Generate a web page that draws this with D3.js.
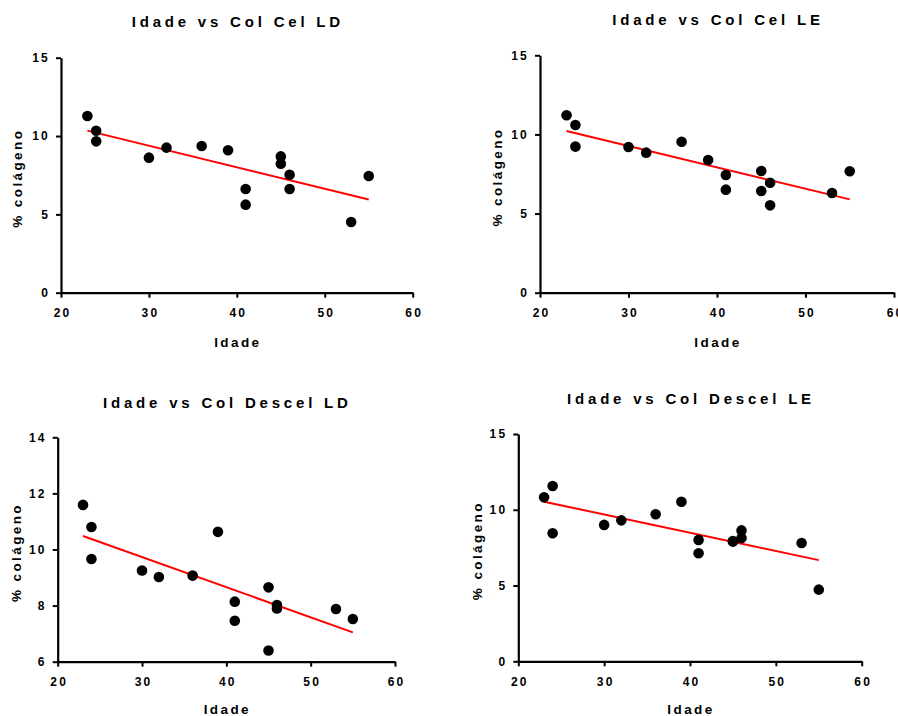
<!DOCTYPE html>
<meta charset="utf-8">
<script src="https://d3js.org/d3.v7.min.js"></script>
<style>
  body { margin: 0; background: #fff; }
  text { font-family: "Liberation Sans", Arial, sans-serif; font-weight: bold; fill: #000; }
</style>
<div id="chart"></div>
<script>
// ages (x) shared by all four panels
var idade = [23, 24, 24, 30, 32, 36, 39, 41, 41, 45, 45, 46, 46, 53, 55];

// % colageno per panel
var colCelLD    = [11.28, 10.34, 9.66, 8.62, 9.26, 9.36, 9.09, 6.62, 5.62, 8.70, 8.23, 7.53, 6.62, 4.51, 7.45];
var colCelLE    = [11.21, 10.60, 9.23, 9.21, 8.85, 9.54, 8.38, 7.44, 6.51, 7.69, 6.43, 6.95, 5.52, 6.30, 7.67];
var colDescelLD = [11.59, 10.80, 9.66, 9.25, 9.02, 9.07, 10.63, 8.14, 7.46, 8.65, 6.40, 8.02, 7.90, 7.88, 7.52];
var colDescelLE = [10.82, 11.57, 8.45, 9.00, 9.30, 9.70, 10.53, 8.01, 7.13, 7.94, 7.90, 8.64, 8.14, 7.81, 4.73];

var titles = ["Idade vs Col Cel LD", "Idade vs Col Cel LE", "Idade vs Col Descel LD", "Idade vs Col Descel LE"];
var xTicks = [20, 30, 40, 50, 60];
var yTicksA = [0, 5, 10, 15];
var yTicksB = [6, 8, 10, 12, 14];

var svg = d3.select("#chart").append("svg")
  .attr("width", 898)
  .attr("height", 716);

// panel boxes: left, right, top, bottom of the axes, plus label positions
var panels = [
  {ys: colCelLD,    title: titles[0], yTicks: yTicksA, l: 61,  r: 412.7, t: 57.7,  b: 292.7, ty: 27,  yl: 17,  xl: 347},
  {ys: colCelLE,    title: titles[1], yTicks: yTicksA, l: 540, r: 894,   t: 55.3,  b: 292.7, ty: 25,  yl: 497, xl: 347},
  {ys: colDescelLD, title: titles[2], yTicks: yTicksB, l: 57.7, r: 395,  t: 437.3, b: 661.7, ty: 408, yl: 16,  xl: 714},
  {ys: colDescelLE, title: titles[3], yTicks: yTicksA, l: 518.3, r: 861.7, t: 434, b: 661.3, ty: 404, yl: 477, xl: 714}
];

function fit(xs, ys) {
  var mx = d3.mean(xs), my = d3.mean(ys);
  var sxy = d3.sum(xs, function(d, i) { return (d - mx) * (ys[i] - my); });
  var sxx = d3.sum(xs, function(d) { return (d - mx) * (d - mx); });
  var m = sxy / sxx;
  return function(x) { return my + m * (x - mx); };
}

panels.forEach(function(p) {
  var g = svg.append("g");
  var x = d3.scaleLinear().domain([20, 60]).range([p.l, p.r]);
  var y = d3.scaleLinear().domain(d3.extent(p.yTicks)).range([p.b, p.t]);

  var xAxis = g.append("g")
    .attr("transform", "translate(0," + p.b + ")")
    .call(d3.axisBottom(x).tickValues(xTicks).tickSize(5).tickPadding(11).tickSizeOuter(0));
  var yAxis = g.append("g")
    .attr("transform", "translate(" + p.l + ",0)")
    .call(d3.axisLeft(y).tickValues(p.yTicks).tickSize(5).tickPadding(6).tickSizeOuter(0));

  [xAxis, yAxis].forEach(function(a) {
    a.select(".domain").attr("stroke", "#000").attr("stroke-width", 2.2);
    a.selectAll(".tick line").attr("stroke", "#000").attr("stroke-width", 2);
    a.selectAll(".tick text")
      .style("font-size", "12px")
      .style("letter-spacing", "2.2px")
      .style("font-family", "'Liberation Sans', Arial, sans-serif")
      .style("font-weight", "bold");
  });
  xAxis.selectAll(".tick text").attr("dx", "1px");

  // regression line
  var f = fit(idade, p.ys);
  var xr = d3.extent(idade);
  g.append("line")
    .attr("x1", x(xr[0])).attr("y1", y(f(xr[0])))
    .attr("x2", x(xr[1])).attr("y2", y(f(xr[1])))
    .attr("stroke", "#ff0000")
    .attr("stroke-width", 2);

  g.selectAll("circle")
    .data(idade)
    .enter().append("circle")
    .attr("cx", function(d) { return x(d); })
    .attr("cy", function(d, i) { return y(p.ys[i]); })
    .attr("r", 5.3)
    .attr("fill", "#000");

  var cx = (p.l + p.r) / 2;
  g.append("text")
    .attr("x", cx + 1).attr("y", p.ty)
    .attr("text-anchor", "middle")
    .style("font-size", "15px")
    .style("letter-spacing", "3.8px")
    .text(p.title);

  g.append("text")
    .attr("x", cx + 1).attr("y", p.xl)
    .attr("text-anchor", "middle")
    .style("font-size", "13.5px")
    .style("letter-spacing", "2.4px")
    .text("Idade");

  g.append("text")
    .attr("transform", "translate(" + (p.yl + 5) + "," + ((p.t + p.b) / 2 + 3) + ") rotate(-90)")
    .attr("text-anchor", "middle")
    .style("font-size", "13.5px")
    .style("letter-spacing", "2.4px")
    .text("% colágeno");
});
</script>
